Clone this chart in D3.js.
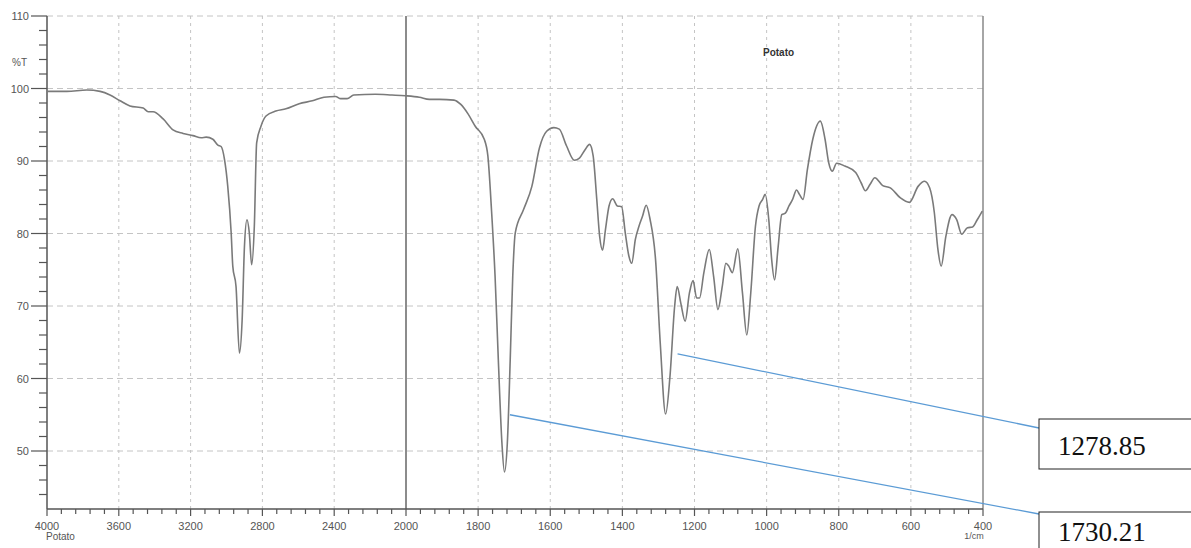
<!DOCTYPE html>
<html><head><meta charset="utf-8">
<script src="https://cdn.jsdelivr.net/npm/d3@7"></script>
<style>body{margin:0;background:#fff}svg{display:block}</style>
</head><body>
<svg id="c" width="1191" height="548"></svg>
<script>
// wavenumber (1/cm)
const wavenumber = [4000,3889,3778,3704,3649,3593,3538,3464,3436,3409,3353,3298,3242,3187,3141,3113,3076,3048,3030,3011,2993,2974,2965,2947,2928,2913,2900,2886,2873,2860,2845,2832,2808,2780,2725,2669,2595,2522,2457,2392,2364,2328,2291,2170,2078,2004,1963,1935,1907,1867,1848,1828,1808,1783,1773,1763,1753,1744,1734,1727,1719,1711,1704,1697,1674,1651,1630,1610,1590,1575,1555,1533,1519,1503,1491,1481,1471,1463,1455,1447,1437,1427,1414,1402,1392,1382,1374,1364,1354,1344,1334,1323,1308,1295,1280,1268,1255,1248,1238,1226,1214,1204,1194,1186,1174,1159,1147,1135,1123,1113,1105,1095,1080,1067,1055,1044,1031,1021,1011,1004,994,986,978,968,958,948,938,928,917,909,899,887,872,851,838,828,818,806,783,753,738,726,713,700,678,657,629,604,580,562,548,535,525,516,503,486,473,459,443,429,416,402];
// transmittance (%T)
const transmittance = [99.6,99.6,99.8,99.6,99.1,98.3,97.6,97.3,96.8,96.8,95.8,94.3,93.8,93.5,93.2,93.3,93.0,92.2,92.0,90.2,86.5,80.1,75.5,72.7,63.5,68,78.2,81.9,80.1,75.7,81,92.5,94.8,96.2,96.9,97.2,97.9,98.3,98.8,98.9,98.6,98.6,99.1,99.2,99.1,99.0,98.8,98.5,98.5,98.4,97.8,96.5,94.8,93.0,90.7,83.3,74.1,62.6,51.1,47.1,51.1,62.6,74.1,80.1,83.3,86.5,91.8,94.1,94.6,94.4,92.1,90.1,90.4,91.6,92.3,90.7,84.7,79.6,77.7,80.5,83.8,84.8,83.8,83.7,80.1,76.9,75.9,79.2,81.0,82.4,83.9,81.9,76.4,64.9,55.1,60.3,70.0,72.7,70.4,67.9,71.8,73.5,71.1,71.1,74.6,77.8,74.1,69.5,72.7,75.9,75.5,74.6,77.9,71.8,66.0,71.8,81.0,83.8,84.7,85.4,81.9,76.4,73.6,78.2,82.6,82.8,83.8,84.7,86.0,85.4,84.7,88.8,93.0,95.5,93.0,89.8,88.6,89.7,89.3,88.4,87.0,85.9,86.8,87.7,86.6,86.3,84.9,84.3,86.5,87.2,86.3,82.9,77.8,75.5,79.6,82.6,81.9,79.9,80.8,80.9,81.9,83.1];
const xTickLabels = [4000,3600,3200,2800,2400,2000,1800,1600,1400,1200,1000,800,600,400];
const yTickLabels = [110,100,90,80,70,60,50];
const peakLabels = ["1278.85","1730.21"];
const peakStartWn = [1247,1712];
const peakStartT = [63.4,55.0];

const svg = d3.select("#c");
const L=47, R=983, T=16, B=509;
const x = d3.scaleLinear().domain([4000,2000,400]).range([L,406,R]);
const y = d3.scaleLinear().domain([42,110]).range([B,T]);
const font = "Arial, 'Liberation Sans', sans-serif";
const gridC = "#c4c4c4", axisC = "#555";

// grids
const g = svg.append("g");
xTickLabels.filter(v=>v!==4000 && v!==2000 && v!==400).forEach(v=>{
  g.append("line").attr("x1",x(v)).attr("x2",x(v)).attr("y1",T).attr("y2",B)
   .attr("stroke",gridC).attr("stroke-width",1).attr("stroke-dasharray","3,4");
});
yTickLabels.forEach(v=>{
  g.append("line").attr("x1",L).attr("x2",R).attr("y1",y(v)).attr("y2",y(v))
   .attr("stroke",gridC).attr("stroke-width",1).attr("stroke-dasharray","6,4");
});
// 2000 divider and right border
g.append("line").attr("x1",x(2000)).attr("x2",x(2000)).attr("y1",T).attr("y2",B).attr("stroke","#666").attr("stroke-width",1.5);
g.append("line").attr("x1",x(400)).attr("x2",x(400)).attr("y1",T).attr("y2",B).attr("stroke","#888").attr("stroke-width",1.5);

// left axis
svg.append("line").attr("x1",L).attr("x2",L).attr("y1",T).attr("y2",B).attr("stroke",axisC).attr("stroke-width",1.5);
for(let v=110; v>42; v-=2){
  const major = v%10===0;
  svg.append("line").attr("x1",L-(major?16:8)).attr("x2",L).attr("y1",y(v)).attr("y2",y(v)).attr("stroke",axisC).attr("stroke-width",1.2);
}
yTickLabels.forEach(v=>{
  svg.append("text").attr("x",29).attr("y",y(v)+4).attr("text-anchor","end")
   .attr("font-family",font).attr("font-size",11).attr("fill","#555").text(v);
});
svg.append("text").attr("x",27).attr("y",66).attr("text-anchor","end")
  .attr("font-family",font).attr("font-size",10).attr("fill","#555").text("%T");

// bottom axis
svg.append("line").attr("x1",L).attr("x2",R).attr("y1",B).attr("y2",B).attr("stroke",axisC).attr("stroke-width",1.5);
const minor = [];
for(let v=4000; v>2000; v-=80) minor.push(v);
for(let v=2000; v>=400; v-=40) minor.push(v);
minor.forEach(v=>{
  const major = xTickLabels.includes(v);
  svg.append("line").attr("x1",x(v)).attr("x2",x(v)).attr("y1",B).attr("y2",B+(major?7:5)).attr("stroke",axisC).attr("stroke-width",1.2);
});
xTickLabels.forEach(v=>{
  svg.append("text").attr("x",x(v)).attr("y",530).attr("text-anchor","middle")
   .attr("font-family",font).attr("font-size",11).attr("fill","#555").text(v);
});
svg.append("text").attr("x",46).attr("y",540).attr("font-family",font).attr("font-size",10).attr("fill","#555").text("Potato");
svg.append("text").attr("x",974).attr("y",539).attr("text-anchor","middle").attr("font-family",font).attr("font-size",9).attr("fill","#555").text("1/cm");

// title
svg.append("text").attr("x",763).attr("y",56).attr("font-family",font).attr("font-size",10).attr("font-weight","bold").attr("fill","#333").text("Potato");

// spectrum
const data = wavenumber.map((w,i)=>[w,transmittance[i]]);
svg.append("path").datum(data)
  .attr("d", d3.line().x(d=>x(d[0])).y(d=>y(d[1])).curve(d3.curveMonotoneX))
  .attr("fill","none").attr("stroke","#7a7a7a").attr("stroke-width",1.6);

// annotations
const boxX = 1039, boxY = [419,512], endY = [428,514], textY = [455,541];
peakLabels.forEach((lab,i)=>{
  svg.append("line").attr("x1",x(peakStartWn[i])).attr("y1",y(peakStartT[i]))
    .attr("x2",boxX).attr("y2",endY[i]).attr("stroke","#5b9bd5").attr("stroke-width",1.3);
  svg.append("rect").attr("x",boxX).attr("y",boxY[i]).attr("width",200).attr("height",50)
    .attr("fill","#fff").attr("stroke","#222").attr("stroke-width",1);
  svg.append("text").attr("x",1058).attr("y",textY[i]).attr("font-family","'Liberation Serif', 'Times New Roman', serif")
    .attr("font-size",27).attr("fill","#111").text(lab);
});
</script>
</body></html>
